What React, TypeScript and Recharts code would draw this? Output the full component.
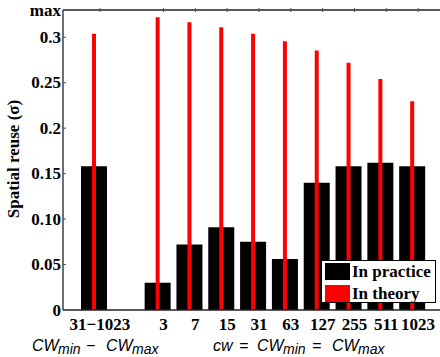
import { BarChart, Bar, XAxis, YAxis, Legend } from 'recharts';

const categories = ['31\u22121023', '', '3', '7', '15', '31', '63', '127', '255', '511', '1023'];
const inPractice = [0.158, null, 0.030, 0.072, 0.091, 0.075, 0.056, 0.140, 0.158, 0.162, 0.158];
const inTheory = [0.304, null, 0.322, 0.3165, 0.311, 0.304, 0.2955, 0.2855, 0.272, 0.254, 0.2295];
const yTicks = [0, 0.05, 0.1, 0.15, 0.2, 0.25, 0.3, 0.33];
const yTickLabels = ['0', '0.05', '0.10', '0.15', '0.2', '0.25', '0.3', 'max'];

const data = categories.map((c, i) => ({ cat: c, practice: inPractice[i], theory: inTheory[i] }));

const serif = '"Liberation Serif", "Times New Roman", serif';
const sans = '"Liberation Sans", Arial, sans-serif';
const axisColor = '#222';

const YTick = ({ x, y, payload, index }: any) => (
  <g>
    <line x1={x + 2} x2={x + 5} y1={y} y2={y} stroke="#555" />
    <text x={x} y={y} dy="0.33em" textAnchor="end" fontFamily={serif} fontWeight="bold" fontSize={17} fill="#000">
      {yTickLabels[yTicks.indexOf(payload.value)] ?? index}
    </text>
  </g>
);

const RightTick = ({ x, y }: any) => (
  <line x1={x - 4} x2={x} y1={y} y2={y} stroke="#999" />
);

const XTick = ({ x, y, payload }: any) => (
  <text x={x + 6} y={y + 18} textAnchor="middle" fontFamily={serif} fontWeight="bold" fontSize={17} fill="#000">
    {payload.value}
  </text>
);

const TopTick = ({ x, y, payload }: any) =>
  payload.value === '' ? null : <line x1={x + 6} x2={x + 6} y1={y} y2={y + 4} stroke="#555" />;

const base = 351;
const sub = 354;

const XTitles = () => (
  <g fontFamily={sans} fontStyle="italic" fontSize={16} fill="#000">
    <text y={base}>
      <tspan x={32} y={base}>CW</tspan>
      <tspan x={58} y={sub} fontSize={14}>min</tspan>
      <tspan x={86} y={base}>{'\u2212'}</tspan>
      <tspan x={106} y={base}>CW</tspan>
      <tspan x={132} y={sub} fontSize={14}>max</tspan>
    </text>
    <text y={base}>
      <tspan x={213} y={base}>cw</tspan>
      <tspan x={239} y={base}>=</tspan>
      <tspan x={257} y={base}>CW</tspan>
      <tspan x={283} y={sub} fontSize={14}>min</tspan>
      <tspan x={312} y={base}>=</tspan>
      <tspan x={332} y={base}>CW</tspan>
      <tspan x={358} y={sub} fontSize={14}>max</tspan>
    </text>
  </g>
);

const YTitle = () => (
  <text
    x={13}
    y={159}
    transform="rotate(-90 13 159)"
    textAnchor="middle"
    dominantBaseline="central"
    fontFamily={serif}
    fontWeight="bold"
    fontSize={17}
    fill="#000"
  >
    Spatial reuse (σ)
  </text>
);

const LegendBox = () => (
  <div
    style={{
      width: 113,
      height: 41,
      border: '1px solid #000',
      background: '#fff',
      fontFamily: serif,
      fontWeight: 'bold',
      fontSize: 17,
      position: 'relative',
    }}
  >
    {[
      { name: 'In practice', color: '#000' },
      { name: 'In theory', color: '#ff0000' },
    ].map((e, i) => (
      <div key={e.name} style={{ position: 'absolute', left: 3, top: 2 + i * 22, display: 'flex', alignItems: 'center', height: 17 }}>
        <span style={{ display: 'inline-block', width: 25, height: 17, background: e.color, marginRight: 2 }} />
        <span style={{ lineHeight: '17px', whiteSpace: 'nowrap' }}>{e.name}</span>
      </div>
    ))}
  </div>
);

export default function App() {
  return (
    <div style={{ position: 'absolute', left: 0, top: 0, width: 440, height: 357, overflow: 'hidden', background: '#fff' }}>
      <BarChart width={442} height={357} data={data} margin={{ top: 0, right: 1, left: 8, bottom: 0 }}>
        <XAxis
          xAxisId="a"
          dataKey="cat"
          height={47}
          padding={{ left: 15, right: 13 }}
          axisLine={{ stroke: axisColor, strokeWidth: 1.3 }}
          tickLine={false}
          tickSize={0}
          tick={<XTick />}
          interval={0}
          label={<XTitles />}
        />
        <XAxis xAxisId="b" dataKey="cat" hide padding={{ left: 15, right: 13 }} />
        <XAxis
          xAxisId="top"
          dataKey="cat"
          orientation="top"
          height={10}
          padding={{ left: 15, right: 13 }}
          axisLine={{ stroke: axisColor, strokeWidth: 1.3 }}
          tickLine={false}
          tickSize={0}
          tick={<TopTick />}
          interval={0}
        />
        <YAxis
          yAxisId="l"
          width={55}
          domain={[0, 0.33]}
          ticks={yTicks}
          interval={0}
          axisLine={{ stroke: axisColor, strokeWidth: 1.3 }}
          tickLine={false}
          tickSize={0}
          tickMargin={2}
          tick={<YTick />}
          label={<YTitle />}
        />
        <YAxis
          yAxisId="r"
          orientation="right"
          width={0}
          domain={[0, 0.33]}
          ticks={yTicks}
          interval={0}
          axisLine={false}
          tickLine={false}
          tickSize={0}
          tick={<RightTick />}
        />
        <Legend
          layout="horizontal"
          verticalAlign="middle"
          align="center"
          content={<LegendBox />}
          wrapperStyle={{ position: 'absolute', left: 321, top: 260, width: 115, height: 43 }}
        />
        <Bar xAxisId="a" yAxisId="l" dataKey="practice" name="In practice" fill="#000" barSize={26} isAnimationActive={false} />
        <Bar xAxisId="b" yAxisId="l" dataKey="theory" name="In theory" fill="#ff0000" barSize={4} isAnimationActive={false} />
      </BarChart>
    </div>
  );
}
